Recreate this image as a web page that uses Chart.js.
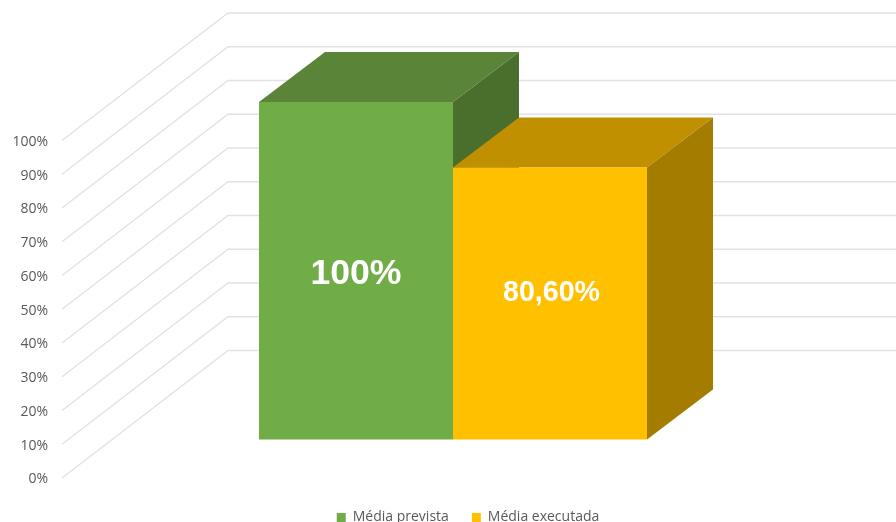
<!DOCTYPE html>
<html>
<head>
<meta charset="utf-8">
<style>html,body{margin:0;padding:0;background:#fff}#w{width:896px;height:522px;position:relative;overflow:hidden}</style>
<script src="https://cdn.jsdelivr.net/npm/chart.js@4"></script>
</head>
<body>
<div id="w"><canvas id="c" width="896" height="522"></canvas></div>
<script>
const categories = ['Média'];
const seriesNames = ['Média prevista', 'Média executada'];
const previstaValues = [100];
const executadaValues = [80.6];
const valueLabels = ['100%', '80,60%'];
const axisTicks = [0,10,20,30,40,50,60,70,80,90,100];

const DEPTH_X = 66, DEPTH_Y = -50;        // depth of a bar
const WALL_X = 166, WALL_Y = -127.5;      // depth of the floor/wall
const FRONT_Y = -38.5;                    // bars stand part way along the floor
const faces = [
  {top:'#5A8539', side:'#4A6F2C'},
  {top:'#C09000', side:'#A37C00'}
];
const labelFonts = ['bold 35.6px "Liberation Sans"', 'bold 28.6px "Liberation Sans"'];
const labelShiftX = [0, 1.5];
const labelShiftY = [13.5, -2.5];

const box3d = {
  id: 'box3d',
  afterLayout(chart) {
    chart.legend.left = 40;
    chart.legend.right = 896;
    chart.legend.top = 487.5;
    chart.legend.bottom = 522;
  },
  beforeDatasetsDraw(chart) {
    const {ctx, scales:{y}, chartArea:a} = chart;
    ctx.save();
    ctx.strokeStyle = '#E2E2E2';
    ctx.lineWidth = 1.3;
    axisTicks.forEach(v => {
      const py = y.getPixelForValue(v);
      ctx.beginPath();
      ctx.moveTo(a.left, py);
      ctx.lineTo(a.left + WALL_X, py + WALL_Y);
      ctx.lineTo(896, py + WALL_Y);
      ctx.stroke();
    });
    seriesNames.forEach((_, i) => {
      const bar = chart.getDatasetMeta(i).data[0];
      const l = bar.x - bar.width/2, r = bar.x + bar.width/2, t = bar.y + FRONT_Y, b = bar.base + FRONT_Y;
      const f = faces[i];
      ctx.fillStyle = f.top;
      ctx.beginPath();
      ctx.moveTo(l,t); ctx.lineTo(l+DEPTH_X,t+DEPTH_Y); ctx.lineTo(r+DEPTH_X,t+DEPTH_Y); ctx.lineTo(r,t);
      ctx.closePath(); ctx.fill();
      ctx.fillStyle = f.side;
      ctx.beginPath();
      ctx.moveTo(r,t); ctx.lineTo(r+DEPTH_X,t+DEPTH_Y); ctx.lineTo(r+DEPTH_X,b+DEPTH_Y); ctx.lineTo(r,b);
      ctx.closePath(); ctx.fill();
    });
    ctx.restore();
  },
  beforeDatasetDraw(chart) {
    chart.ctx.save();
    chart.ctx.translate(0, FRONT_Y);
  },
  afterDatasetDraw(chart) {
    chart.ctx.restore();
  },
  afterDatasetsDraw(chart) {
    const {ctx} = chart;
    ctx.save();
    ctx.fillStyle = '#fff';
    ctx.textAlign = 'center';
    ctx.textBaseline = 'alphabetic';
    valueLabels.forEach((txt, i) => {
      const bar = chart.getDatasetMeta(i).data[0];
      ctx.font = labelFonts[i];
      ctx.fillText(txt, bar.x + labelShiftX[i], (bar.y + bar.base)/2 + FRONT_Y + labelShiftY[i]);
    });
    ctx.restore();
  }
};

new Chart(document.getElementById('c'), {
  type: 'bar',
  data: {
    labels: categories,
    datasets: [
      {label: seriesNames[0], data: previstaValues, backgroundColor:'#70AD47', clip:false},
      {label: seriesNames[1], data: executadaValues, backgroundColor:'#FFC000', clip:false}
    ]
  },
  options: {
    responsive:false,
    animation:false,
    layout:{padding:{top:140.5,right:52,left:0,bottom:-3}},
    categoryPercentage:388/782,
    barPercentage:1,
    plugins:{
      tooltip:{enabled:false},
      legend:{
        position:'bottom',
        labels:{
          boxWidth:9, boxHeight:9, padding:23,
          color:'#595959',
          font:{family:'"Open Sans"', size:14}
        }
      }
    },
    scales:{
      x:{display:false},
      y:{
        min:0,max:100,
        afterFit(s){s.width=62;},
        grid:{display:false},
        border:{display:false},
        ticks:{
          stepSize:10,
          padding:6,
          labelOffset:1.5,
          color:'#595959',
          font:{family:'"Open Sans"', size:14},
          callback:v=>v+'%'
        }
      }
    }
  },
  plugins:[box3d]
});
</script>
</body>
</html>
